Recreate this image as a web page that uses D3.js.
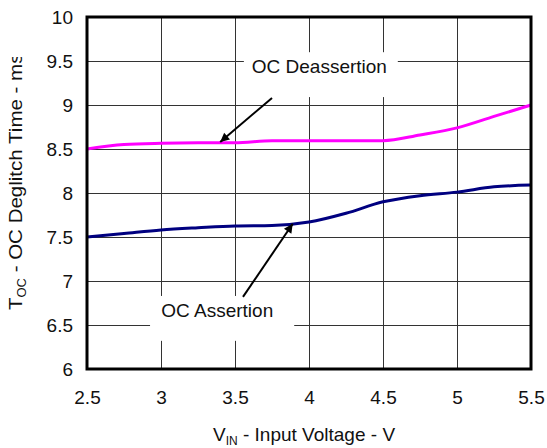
<!DOCTYPE html>
<html>
<head>
<meta charset="utf-8">
<script src="https://cdn.jsdelivr.net/npm/d3@7"></script>
<style>
  body { margin: 0; background: #fff; }
  svg { display: block; font-family: "Liberation Sans", Arial, sans-serif; }
</style>
</head>
<body>
<svg id="chart" width="547" height="448"></svg>
<script>
// input voltage (V)
const vin = [2.5, 2.75, 3, 3.25, 3.5, 3.75, 4, 4.25, 4.5, 4.75, 5, 5.25, 5.5];
// deglitch time (ms)
const deassertion = [8.5, 8.55, 8.565, 8.57, 8.57, 8.595, 8.595, 8.595, 8.595, 8.66, 8.74, 8.87, 9.0];
const assertion = [7.5, 7.54, 7.58, 7.605, 7.625, 7.63, 7.67, 7.77, 7.9, 7.97, 8.01, 8.07, 8.09];

const xTicks = [2.5, 3, 3.5, 4, 4.5, 5, 5.5];
const yTicks = [6, 6.5, 7, 7.5, 8, 8.5, 9, 9.5, 10];

// annotation boxes and arrows, in data units
const notes = [
  { label: 'OC Deassertion', box: [3.56, 4.6, 9.6, 9.09], text: [4.07, 9.36],
    from: [3.75, 9.08], to: [3.4, 8.58] },
  { label: 'OC Assertion', box: [2.926, 3.9, 6.83, 6.32], text: [3.38, 6.59],
    from: [3.554, 6.82], to: [3.89, 7.65] }
];

const margin = { top: 17, right: 16, bottom: 79, left: 87 };
const width = 547 - margin.left - margin.right;
const height = 448 - margin.top - margin.bottom;

const svg = d3.select('#chart');
const g = svg.append('g').attr('transform', `translate(${margin.left},${margin.top})`);

const x = d3.scaleLinear().domain([2.5, 5.5]).range([0, width]);
const y = d3.scaleLinear().domain([6, 10]).range([height, 0]);

// grid
g.append('g')
  .attr('class', 'grid')
  .attr('transform', `translate(0,${height})`)
  .call(d3.axisBottom(x).tickValues(xTicks).tickSize(-height).tickFormat(''))
  .call(a => a.select('.domain').remove());
g.append('g')
  .attr('class', 'grid')
  .call(d3.axisLeft(y).tickValues(yTicks).tickSize(-width).tickFormat(''))
  .call(a => a.select('.domain').remove());
g.selectAll('.grid line').attr('stroke', '#333').attr('stroke-width', 1);

// white label boxes over the grid
g.selectAll('.note-box')
  .data(notes)
  .enter()
  .append('rect')
  .attr('class', 'note-box')
  .attr('x', d => x(d.box[0]))
  .attr('y', d => y(d.box[2]))
  .attr('width', d => x(d.box[1]) - x(d.box[0]))
  .attr('height', d => y(d.box[3]) - y(d.box[2]))
  .attr('fill', '#fff');

g.selectAll('.note-text')
  .data(notes)
  .enter()
  .append('text')
  .attr('class', 'note-text')
  .attr('x', d => x(d.text[0]))
  .attr('y', d => y(d.text[1]))
  .attr('text-anchor', 'middle')
  .attr('font-size', 19)
  .attr('fill', '#111')
  .text(d => d.label);

// series
const line = d3.line()
  .x((d, i) => x(vin[i]))
  .y(d => y(d))
  .curve(d3.curveMonotoneX);

g.append('path')
  .datum(deassertion)
  .attr('d', line)
  .attr('fill', 'none')
  .attr('stroke', '#ff00ff')
  .attr('stroke-width', 3);

g.append('path')
  .datum(assertion)
  .attr('d', line)
  .attr('fill', 'none')
  .attr('stroke', '#000080')
  .attr('stroke-width', 3);

// arrows
svg.append('defs').append('marker')
  .attr('id', 'arrow')
  .attr('viewBox', '0 0 10 10')
  .attr('refX', 10)
  .attr('refY', 5)
  .attr('markerWidth', 11)
  .attr('markerHeight', 9)
  .attr('markerUnits', 'userSpaceOnUse')
  .attr('orient', 'auto')
  .append('path')
  .attr('d', 'M0,0L10,5L0,10Z')
  .attr('fill', '#000');

g.selectAll('.note-arrow')
  .data(notes)
  .enter()
  .append('line')
  .attr('class', 'note-arrow')
  .attr('x1', d => x(d.from[0]))
  .attr('y1', d => y(d.from[1]))
  .attr('x2', d => x(d.to[0]))
  .attr('y2', d => y(d.to[1]))
  .attr('stroke', '#000')
  .attr('stroke-width', 2)
  .attr('marker-end', 'url(#arrow)');

// frame
g.append('rect')
  .attr('width', width)
  .attr('height', height)
  .attr('fill', 'none')
  .attr('stroke', '#000')
  .attr('stroke-width', 3);

// tick labels
const xAxis = g.append('g')
  .attr('transform', `translate(0,${height})`)
  .call(d3.axisBottom(x).tickValues(xTicks).tickSize(0).tickPadding(22).tickFormat(d3.format('')));
const yAxis = g.append('g')
  .call(d3.axisLeft(y).tickValues(yTicks).tickSize(0).tickPadding(14).tickFormat(d3.format('')));
[xAxis, yAxis].forEach(a => {
  a.select('.domain').remove();
  a.selectAll('text').attr('font-size', 19).attr('font-family', '"Liberation Sans", Arial, sans-serif').attr('fill', '#111');
});

// x axis title
const xt = svg.append('text')
  .attr('x', 213)
  .attr('y', 441)
  .attr('font-size', 19)
  .attr('fill', '#111');
xt.append('tspan').text('V');
xt.append('tspan').attr('font-size', 12).attr('dy', 4).text('IN');
xt.append('tspan').attr('dy', -4).text(' - Input Voltage - V');

// y axis title, clipped at the top like the original
svg.select('defs').append('clipPath')
  .attr('id', 'ytitle-clip')
  .append('rect')
  .attr('x', 0)
  .attr('y', 57)
  .attr('width', 40)
  .attr('height', 300);

const yt = svg.append('g')
  .attr('clip-path', 'url(#ytitle-clip)')
  .append('text')
  .attr('transform', 'translate(22,310) rotate(-90) scale(1.08,1)')
  .attr('font-size', 19)
  .attr('fill', '#111');
yt.append('tspan').text('T');
yt.append('tspan').attr('font-size', 12).attr('dy', 4).text('OC');
yt.append('tspan').attr('dy', -4).text(' - OC Deglitch Time - ms');
</script>
</body>
</html>
